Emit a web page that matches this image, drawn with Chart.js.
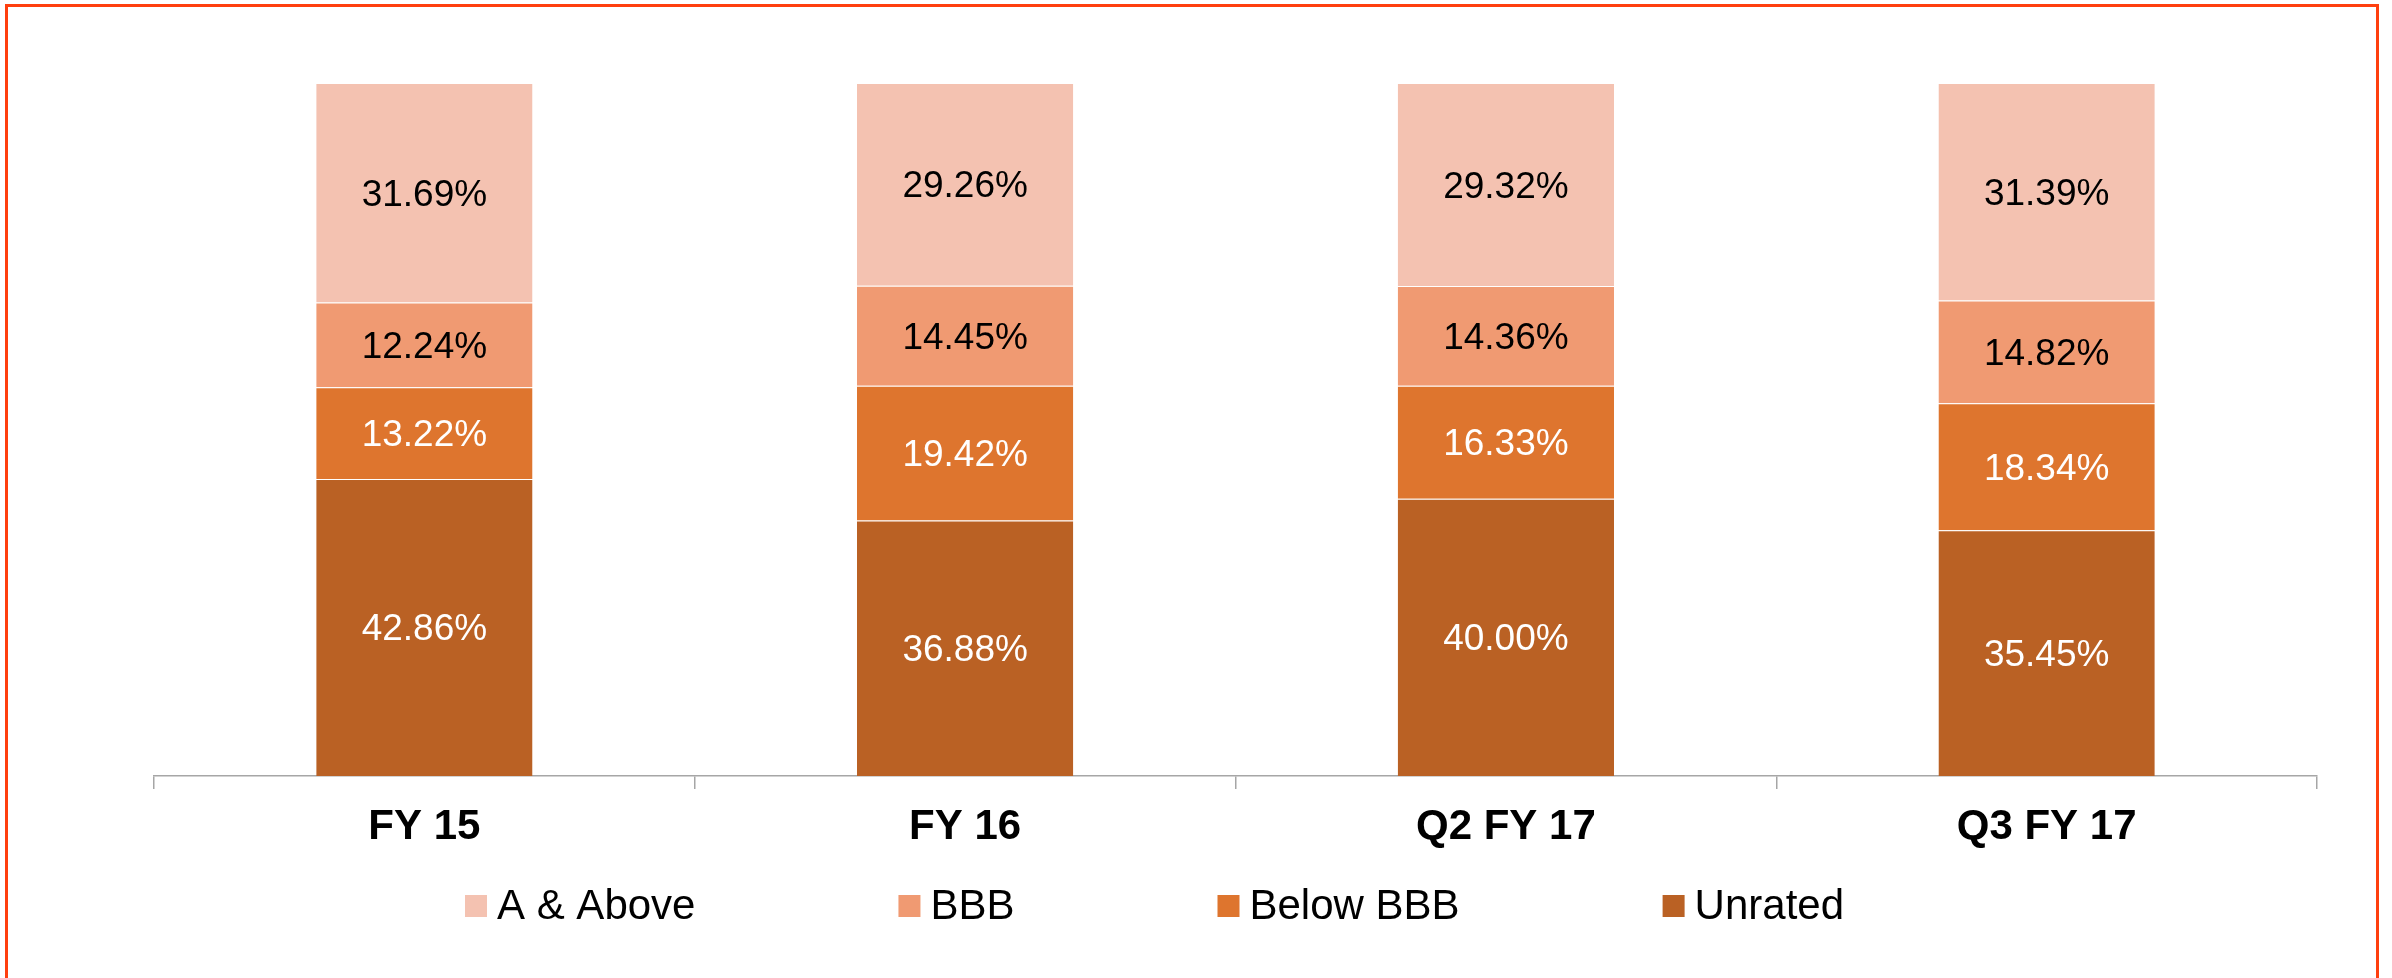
<!DOCTYPE html>
<html>
<head>
<meta charset="utf-8">
<script src="https://cdn.jsdelivr.net/npm/chart.js@4/dist/chart.umd.min.js"></script>
<style>
  html, body { margin: 0; padding: 0; background: #fff; overflow: hidden; }
  #wrap { position: relative; width: 2392px; height: 978px; }
  #frame { position: absolute; left: 5px; top: 4px; width: 2374px; height: 1000px;
           box-sizing: border-box; border: 3px solid #FF3F0F; pointer-events: none; }
</style>
</head>
<body>
<div id="wrap">
  <canvas id="chart1"></canvas>
  <div id="frame"></div>
</div>
<script>
const categories = ['FY 15', 'FY 16', 'Q2 FY 17', 'Q3 FY 17'];
const aAndAbove = [31.69, 29.26, 29.32, 31.39];
const bbb = [12.24, 14.45, 14.36, 14.82];
const belowBbb = [13.22, 19.42, 16.33, 18.34];
const unrated = [42.86, 36.88, 40.00, 35.45];

const FONT = "'Liberation Sans', Arial, sans-serif";

// stacked bottom-up
const series = [
    { label: 'Unrated', data: unrated, color: '#BA6124', text: '#ffffff' },
    { label: 'Below BBB', data: belowBbb, color: '#DE752E', text: '#ffffff' },
    { label: 'BBB', data: bbb, color: '#F09A72', text: '#000000' },
    { label: 'A & Above', data: aAndAbove, color: '#F4C2B1', text: '#000000' },
];

// values inside the segments
const segmentLabels = {
    id: 'segmentLabels',
    afterDatasetsDraw(chart) {
        const ctx = chart.ctx;
        ctx.save();
        ctx.font = '37px ' + FONT;
        ctx.textAlign = 'center';
        ctx.textBaseline = 'alphabetic';
        chart.data.datasets.forEach((ds, i) => {
            const meta = chart.getDatasetMeta(i);
            ctx.fillStyle = series[i].text;
            meta.data.forEach((bar, j) => {
                const cy = (bar.y + bar.base) / 2;
                ctx.fillText(ds.data[j].toFixed(2) + '%', bar.x, cy + 13);
            });
        });
        ctx.restore();
    }
};

// legend in one row, top series first
const rowLegend = {
    id: 'rowLegend',
    afterDraw(chart) {
        const ctx = chart.ctx;
        ctx.save();
        ctx.font = '42px ' + FONT;
        ctx.textBaseline = 'alphabetic';
        ctx.textAlign = 'left';
        let x = 465;
        const boxTop = 895, box = 22;
        for (let i = series.length - 1; i >= 0; i--) {
            ctx.fillStyle = series[i].color;
            ctx.fillRect(x, boxTop, box, box);
            ctx.fillStyle = '#000';
            ctx.fillText(series[i].label, x + box + 10, 919);
            x += box + 10 + ctx.measureText(series[i].label).width + 203;
        }
        ctx.restore();
    }
};

const eval_chart1 = (function () {
    const ctx = document.getElementById('chart1');
    const data = {
        labels: categories,
        datasets: series.map(s => ({
            label: s.label,
            data: s.data,
            backgroundColor: s.color,
            borderColor: 'rgba(255,255,255,0.22)',
            borderWidth: { top: 1, left: 0, right: 0, bottom: 0 },
            borderSkipped: 'start',
            barPercentage: 0.4,
            categoryPercentage: 1.0
        }))
    };
    const config = {
        type: 'bar',
        data: data,
        options: {
            responsive: true,
            maintainAspectRatio: false,
            animation: false,
            layout: {
                padding: { left: 154, right: 75, top: 83, bottom: 122 }
            },
            scales: {
                x: {
                    stacked: true,
                    offset: true,
                    afterFit: (scale) => { scale.height = 80; },
                    grid: {
                        offset: true,
                        drawOnChartArea: false,
                        drawTicks: true,
                        tickLength: 13,
                        color: '#A6A6A6',
                        lineWidth: 1.5
                    },
                    border: { display: true, color: '#A6A6A6', width: 1.5 },
                    ticks: {
                        color: '#000',
                        padding: 13,
                        maxRotation: 0,
                        font: { family: FONT, size: 42, weight: 'bold' }
                    }
                },
                y: {
                    stacked: true,
                    display: false,
                    min: 0,
                    max: 100
                }
            },
            plugins: {
                legend: { display: false },
                tooltip: { enabled: false }
            }
        },
        plugins: [segmentLabels, rowLegend]
    };
    new Chart(ctx, config);
});

eval_chart1();
</script>
</body>
</html>
